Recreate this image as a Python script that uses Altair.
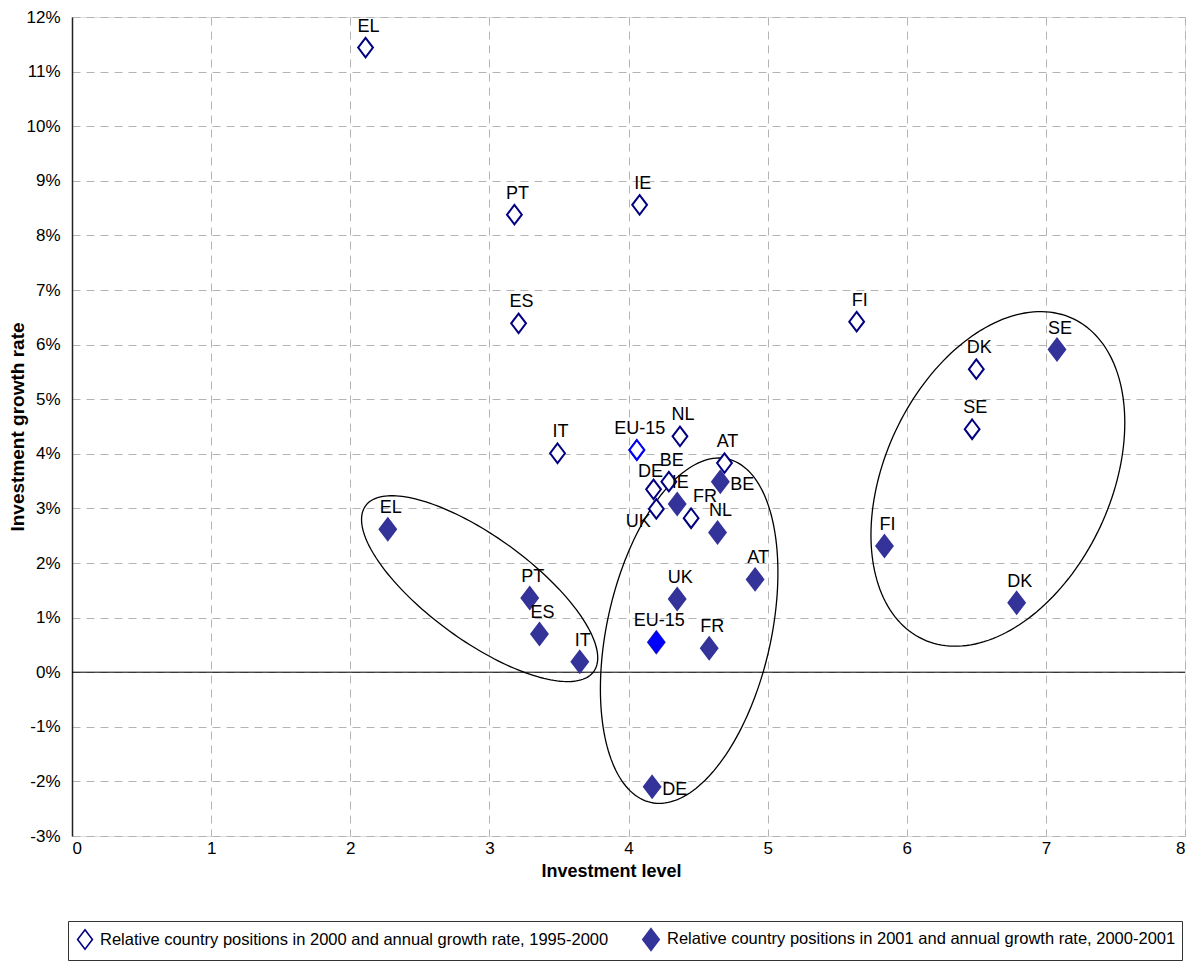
import math
import altair as alt
import pandas as pd

# ---------------- data ----------------
SERIES = [
    "Relative country positions in 2000 and annual growth rate, 1995-2000",
    "Relative country positions in 2001 and annual growth rate, 2000-2001",
]

countries_2000 = ["EL", "PT", "IE", "ES", "FI", "DK", "SE", "IT", "EU-15", "NL", "AT", "BE", "DE", "UK", "FR"]
level_2000 = [2.11, 3.18, 4.08, 3.21, 5.64, 6.50, 6.47, 3.49, 4.06, 4.37, 4.69, 4.29, 4.18, 4.20, 4.45]
growth_2000 = [11.44, 8.38, 8.56, 6.39, 6.42, 5.55, 4.45, 4.01, 4.07, 4.32, 3.83, 3.49, 3.35, 2.99, 2.82]

countries_2001 = ["IE", "BE", "NL", "AT", "UK", "EU-15", "FR", "DE", "EL", "PT", "ES", "IT", "SE", "FI", "DK"]
level_2001 = [4.35, 4.66, 4.64, 4.91, 4.35, 4.20, 4.58, 4.17, 2.27, 3.29, 3.36, 3.65, 7.08, 5.84, 6.79]
growth_2001 = [3.08, 3.49, 2.56, 1.70, 1.34, 0.55, 0.44, -2.10, 2.62, 1.36, 0.70, 0.19, 5.91, 2.31, 1.27]

# label placement exceptions (default: above the marker)
place_2000 = {"DE": "aboveleft", "UK": "belowleft", "FR": "aboveright"}
place_2001 = {"BE": "right", "DE": "right"}

x_ticks = [0, 1, 2, 3, 4, 5, 6, 7, 8]
y_ticks = [-3, -2, -1, 0, 1, 2, 3, 4, 5, 6, 7, 8, 9, 10, 11, 12]

# ellipses grouping the 2001 positions: centre (data units), semi-axes (px), tilt (deg)
ell_cx = [2.93, 4.436, 6.655]
ell_cy = [1.53, 0.76, 3.54]
ell_a = [141, 176, 177]
ell_b = [52, 82, 113]
ell_tilt = [-36, 77.4, 64.9]

# ---------------- layout ----------------
W, H = 1113, 819
PX_X = W / (x_ticks[-1] - x_ticks[0])
PX_Y = H / (y_ticks[-1] - y_ticks[0])

FONT = "Liberation Sans, Arial, sans-serif"
DIAMOND = "M0,-1L0.76,0L0,1L-0.76,0Z"
NAVY = "#000080"
FILL = "#333399"
EU_BLUE = "#0000FF"

rows = []
for c, x, y in zip(countries_2000, level_2000, growth_2000):
    rows.append(dict(country=c, level=x, growth=y, series=SERIES[0], place=place_2000.get(c, "above")))
for c, x, y in zip(countries_2001, level_2001, growth_2001):
    rows.append(dict(country=c, level=x, growth=y, series=SERIES[1], place=place_2001.get(c, "above")))
df = pd.DataFrame(rows)

erows = []
for k, (cx, cy, a, b, t) in enumerate(zip(ell_cx, ell_cy, ell_a, ell_b, ell_tilt)):
    th = math.radians(t)
    for i in range(0, 181):
        s = 2 * math.pi * i / 180
        u, v = a * math.cos(s), b * math.sin(s)
        dx = u * math.cos(th) - v * math.sin(th)
        dy = u * math.sin(th) + v * math.cos(th)
        erows.append(dict(e=k, i=i, x=cx + dx / PX_X, y=cy + dy / PX_Y))
edf = pd.DataFrame(erows)

xscale = alt.Scale(domain=[x_ticks[0], x_ticks[-1]], nice=False, zero=False)
yscale = alt.Scale(domain=[y_ticks[0], y_ticks[-1]], nice=False, zero=False)

xaxis = alt.Axis(
    values=x_ticks, format="d", grid=True, gridDash=[8, 6], gridColor="#b4b4b4", gridWidth=1,
    domain=False, ticks=False, labelFont=FONT, labelFontSize=17, labelColor="black",
    labelPadding=4, title="Investment level", titleFont=FONT, titleFontSize=18,
    titleFontWeight="bold", titleColor="black", titlePadding=6, titleX=539,
)
yaxis = alt.Axis(
    values=y_ticks, grid=True, gridDash=[8, 6], gridColor="#b4b4b4", gridWidth=1,
    domain=True, domainColor="#222222", domainWidth=1.5, ticks=False,
    labelFont=FONT, labelFontSize=17, labelColor="black", labelPadding=12,
    labelExpr="datum.value + '%'",
    title="Investment growth rate", titleFont=FONT, titleFontSize=19,
    titleFontWeight="bold", titleColor="black", titleX=-55, titleBaseline="middle",
)

legend = alt.Legend(
    title=None, orient="none", legendX=-4, legendY=904, direction="horizontal",
    strokeColor="#333333", fillColor="white", padding=6, columnPadding=30,
    labelFont=FONT, labelFontSize=16.5, labelColor="black", labelLimit=1000, labelOffset=4,
    symbolType=DIAMOND, symbolSize=130, symbolStrokeWidth=1.6,
)

base = alt.Chart(df)

zero = alt.Chart(pd.DataFrame({"y": [0]})).mark_rule(color="black", strokeWidth=1).encode(
    y=alt.Y("y:Q", scale=yscale, axis=yaxis)
)

ellipses = alt.Chart(edf).mark_line(color="black", strokeWidth=1.3).encode(
    x=alt.X("x:Q", scale=xscale, axis=xaxis),
    y=alt.Y("y:Q", scale=yscale, axis=yaxis),
    detail="e:N",
    order="i:Q",
)

points = base.mark_point(shape=DIAMOND, filled=False, opacity=1, strokeWidth=2).encode(
    x=alt.X("level:Q", scale=xscale, axis=xaxis),
    y=alt.Y("growth:Q", scale=yscale, axis=yaxis),
    color=alt.Color("series:N", scale=alt.Scale(domain=SERIES, range=[NAVY, FILL]), legend=legend),
    fill=alt.Fill("series:N", scale=alt.Scale(domain=SERIES, range=["white", FILL]), legend=legend),
    size=alt.Size("series:N", scale=alt.Scale(domain=SERIES, range=[380, 470]), legend=None),
)

eu_hollow = base.transform_filter(
    (alt.datum.country == "EU-15") & (alt.datum.series == SERIES[0])
).mark_point(shape=DIAMOND, filled=False, opacity=1, strokeWidth=2, stroke=EU_BLUE, fill="white", size=380).encode(
    x="level:Q", y="growth:Q"
)
eu_filled = base.transform_filter(
    (alt.datum.country == "EU-15") & (alt.datum.series == SERIES[1])
).mark_point(shape=DIAMOND, filled=True, opacity=1, strokeWidth=1, stroke=EU_BLUE, fill=EU_BLUE, size=470).encode(
    x="level:Q", y="growth:Q"
)

label_specs = {
    "above": dict(dx=3, dy=-21, align="center"),
    "aboveleft": dict(dx=-3, dy=-17, align="center"),
    "belowleft": dict(dx=-18, dy=13, align="center"),
    "aboveright": dict(dx=14, dy=-21, align="center"),
    "right": dict(dx=10, dy=3, align="left"),
}
labels = []
for name, spec in label_specs.items():
    labels.append(
        base.transform_filter(alt.datum.place == name)
        .mark_text(font=FONT, fontSize=18, color="black", baseline="middle", **spec)
        .encode(x="level:Q", y="growth:Q", text="country:N")
    )

chart = alt.layer(zero, ellipses, points, eu_hollow, eu_filled, *labels).properties(
    width=W, height=H,
    autosize=alt.AutoSizeParams(type="none"),
    padding={"left": 64, "top": 9, "right": 4, "bottom": 130},
).configure_view(stroke="#808080", strokeWidth=2).configure(background="white")

chart.save("out.html", embed_options={"renderer": "svg", "actions": False})
